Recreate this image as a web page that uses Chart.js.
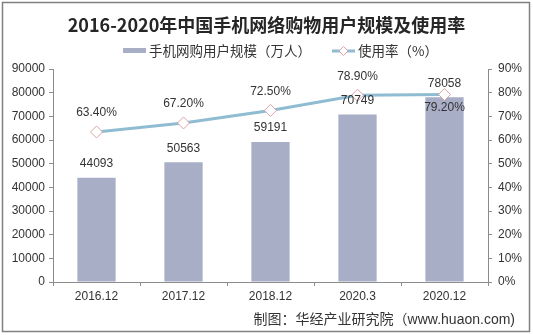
<!DOCTYPE html>
<html>
<head>
<meta charset="utf-8">
<script src="https://cdn.jsdelivr.net/npm/chart.js@4/dist/chart.umd.min.js"></script>
<style>
html,body{margin:0;padding:0;background:#fff;}
#wrap{width:533px;height:335px;position:relative;}
</style>
</head>
<body>
<div id="wrap"><canvas id="c"></canvas></div>
<script>
const categories = ['2016.12', '2017.12', '2018.12', '2020.3', '2020.12'];
const users = [44093, 50563, 59191, 70749, 78058];
const usageRate = [63.4, 67.2, 72.5, 78.9, 79.2];
const rateLabels = ['63.40%', '67.20%', '72.50%', '78.90%', '79.20%'];
const titleText = '2016-2020年中国手机网络购物用户规模及使用率';
const barLegend = '手机网购用户规模（万人）';
const lineLegend = '使用率（%）';
const sourceText = '制图：华经产业研究院（www.huaon.com)';

const BAR_COLOR = '#A8AEC6';
const LINE_COLOR = '#8FBCD1';
const MARK_BORDER = '#D9A3A6';
const TEXT = '#333333';
const AXIS = '#8C8C8C';
const LATIN = '"Liberation Sans", Arial, sans-serif';
const CJK = '"Noto Sans CJK SC", "Liberation Sans", sans-serif';
const MIXED = '"Liberation Sans", "Noto Sans CJK SC", sans-serif';

const decor = {
  id: 'decor',
  afterDraw(chart) {
    const ctx = chart.ctx;
    ctx.save();
    // data labels
    ctx.font = '12px ' + LATIN;
    ctx.fillStyle = TEXT;
    ctx.textAlign = 'center';
    ctx.textBaseline = 'middle';
    const barMeta = chart.getDatasetMeta(0);
    barMeta.data.forEach((el, i) => {
      ctx.fillText(String(users[i]), el.x, el.y - 14);
    });
    const lineMeta = chart.getDatasetMeta(1);
    lineMeta.data.forEach((el, i) => {
      const dy = (i === lineMeta.data.length - 1) ? 13 : -19;
      ctx.fillText(rateLabels[i], el.x, el.y + dy);
    });
    // legend
    ctx.fillStyle = BAR_COLOR;
    ctx.fillRect(123, 48, 23, 5);
    ctx.font = '13.5px ' + CJK;
    ctx.fillStyle = TEXT;
    ctx.textAlign = 'left';
    ctx.fillText(barLegend, 149, 51);
    ctx.strokeStyle = LINE_COLOR;
    ctx.lineWidth = 3;
    ctx.beginPath();
    ctx.moveTo(332, 51);
    ctx.lineTo(355, 51);
    ctx.stroke();
    ctx.fillStyle = '#fff';
    ctx.strokeStyle = MARK_BORDER;
    ctx.lineWidth = 1;
    ctx.beginPath();
    ctx.moveTo(343.5, 46.5);
    ctx.lineTo(348, 51);
    ctx.lineTo(343.5, 55.5);
    ctx.lineTo(339, 51);
    ctx.closePath();
    ctx.fill();
    ctx.stroke();
    ctx.fillStyle = TEXT;
    ctx.fillText(lineLegend, 358, 51);
    // source
    ctx.font = '14px ' + MIXED;
    ctx.textAlign = 'right';
    ctx.fillText(sourceText, 515, 320);
    // border
    ctx.strokeStyle = '#808080';
    ctx.lineWidth = 1.5;
    ctx.strokeRect(2.5, 2.5, 527, 329);
    ctx.restore();
  }
};

new Chart(document.getElementById('c'), {
  data: {
    labels: categories,
    datasets: [
      {
        type: 'bar',
        label: barLegend,
        data: users,
        backgroundColor: BAR_COLOR,
        yAxisID: 'y',
        order: 2,
        categoryPercentage: 1,
        barPercentage: 0.44
      },
      {
        type: 'line',
        label: lineLegend,
        data: usageRate,
        borderColor: LINE_COLOR,
        borderWidth: 3,
        pointStyle: 'rectRot',
        pointRadius: 6,
        pointBorderWidth: 1,
        pointBackgroundColor: '#ffffff',
        pointBorderColor: MARK_BORDER,
        tension: 0,
        yAxisID: 'y1',
        order: 1
      }
    ]
  },
  options: {
    responsive: true,
    maintainAspectRatio: false,
    animation: false,
    layout: { padding: { left: 0, right: 0, top: 0, bottom: 0 } },
    plugins: {
      legend: { display: false },
      tooltip: { enabled: false },
      title: {
        display: true,
        text: titleText,
        color: '#262626',
        font: { family: CJK, size: 18, weight: 'bold', lineHeight: 1.2 },
        padding: { top: 14, bottom: 33.4 }
      }
    },
    scales: {
      x: {
        offset: true,
        grid: { display: true, drawOnChartArea: false, offset: true, tickLength: 4, color: AXIS },
        border: { display: true, color: AXIS, width: 1 },
        ticks: { color: TEXT, font: { family: LATIN, size: 12 }, padding: 3, maxRotation: 0 },
        afterFit(s) { s.height = 53; }
      },
      y: {
        position: 'left',
        min: 0, max: 90000,
        ticks: { stepSize: 10000, color: TEXT, font: { family: LATIN, size: 12 }, padding: 4, callback: v => String(v) },
        grid: { display: true, drawOnChartArea: false, tickLength: 4, color: AXIS },
        border: { display: true, color: AXIS, width: 1 },
        afterFit(s) { s.width = 53; }
      },
      y1: {
        position: 'right',
        min: 0, max: 90,
        ticks: { stepSize: 10, color: TEXT, font: { family: LATIN, size: 12 }, padding: 6, callback: v => v + '%' },
        grid: { display: true, drawOnChartArea: false, tickLength: 4, color: AXIS },
        border: { display: true, color: AXIS, width: 1 },
        afterFit(s) { s.width = 45; }
      }
    }
  },
  plugins: [decor]
});
</script>
</body>
</html>
